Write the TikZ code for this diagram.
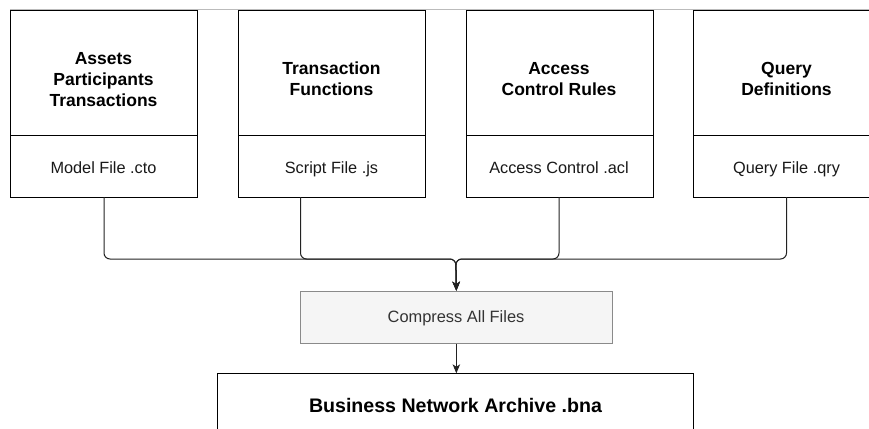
\documentclass[tikz,border=0pt]{standalone}
\usepackage{fontspec}
\setmainfont{Liberation Sans}
\usetikzlibrary{arrows.meta}
\definecolor{cline}{HTML}{222222}
\definecolor{cgrayfill}{HTML}{F5F5F5}
\definecolor{cgraystroke}{HTML}{8A8A8A}
\definecolor{ctext}{HTML}{333333}
\definecolor{ctop}{HTML}{BBBBBB}
\begin{document}
\begin{tikzpicture}[x=1pt,y=-1pt,
  box/.style={draw=black, line width=1pt, minimum width=187pt, inner sep=0pt, anchor=north west},
  ttl/.style={font=\bfseries\fontsize{17.5}{20.7}\selectfont, align=center, inner sep=0pt, anchor=center},
  sub/.style={font=\fontsize{16.3}{19}\selectfont, anchor=base, inner sep=0pt, text=black!90},
  conn/.style={draw=cline, line width=1pt, rounded corners=6pt, -{Stealth[length=9pt,width=7.5pt,inset=2.5pt]}}]
\useasboundingbox (0,0) rectangle (869,428);
\clip (0,0) rectangle (869,428);
\fill[white] (0,0) rectangle (869,428);
% faint top line
\draw[ctop, line width=1pt] (10,10) -- (869,10);
% top boxes
\node[box, minimum height=125pt] (t1) at (10,10) {};
\node[box, minimum height=62pt]  (b1) at (10,135) {};
\node[box, minimum height=125pt] (t2) at (238,10) {};
\node[box, minimum height=62pt]  (b2) at (238,135) {};
\node[box, minimum height=125pt] (t3) at (465.5,10) {};
\node[box, minimum height=62pt]  (b3) at (465.5,135) {};
\node[box, minimum height=125pt] (t4) at (693,10) {};
\node[box, minimum height=62pt]  (b4) at (693,135) {};
% titles
\node[ttl] (l1) at (103.5,79.5) {Assets\\Participants\\Transactions};
\node[ttl] (l2) at (331.5,79) {Transaction\\Functions};
\node[ttl] (l3) at (559,79) {Access\\Control Rules};
\node[ttl] (l4) at (786.5,79) {Query\\Definitions};
% subtitles
\node[sub] (s1) at (103.5,173.3) {Model File .cto};
\node[sub] (s2) at (331.5,173.3) {Script File .js};
\node[sub] (s3) at (559,173.3) {Access Control .acl};
\node[sub] (s4) at (786.5,173.3) {Query File .qry};
% compress box
\node[draw=cgraystroke, fill=cgrayfill, line width=1pt, minimum width=311.7pt, minimum height=52pt, inner sep=0pt, anchor=north west] (cmp) at (300,290.7) {};
\node[font=\fontsize{16.4}{19}\selectfont, anchor=base, inner sep=0pt, text=ctext] (cmpt) at (456,322.7) {Compress All Files};
% archive box
\node[box, minimum width=476.3pt, minimum height=100pt] (bna) at (216.7,373.3) {};
\node[font=\bfseries\fontsize{19.6}{23}\selectfont, anchor=base, inner sep=0pt] (bnat) at (455.5,412.7) {Business Network Archive .bna};
% connectors
\coordinate (m) at (455.8,259);
\coordinate (c1) at (104,197);
\coordinate (c2) at (300.5,197);
\coordinate (c3) at (559,197);
\coordinate (c4) at (786.5,197);
\draw[conn] (c1) -- (c1 |- m) -- (m) -- (cmp.north);
\draw[conn] (c2) -- (c2 |- m) -- (m) -- (cmp.north);
\draw[conn] (c3) -- (c3 |- m) -- (m) -- (cmp.north);
\draw[conn] (c4) -- (c4 |- m) -- (m) -- (cmp.north);
\draw[conn] (cmp.south) -- (cmp.south |- bna.north);
\end{tikzpicture}
\end{document}
